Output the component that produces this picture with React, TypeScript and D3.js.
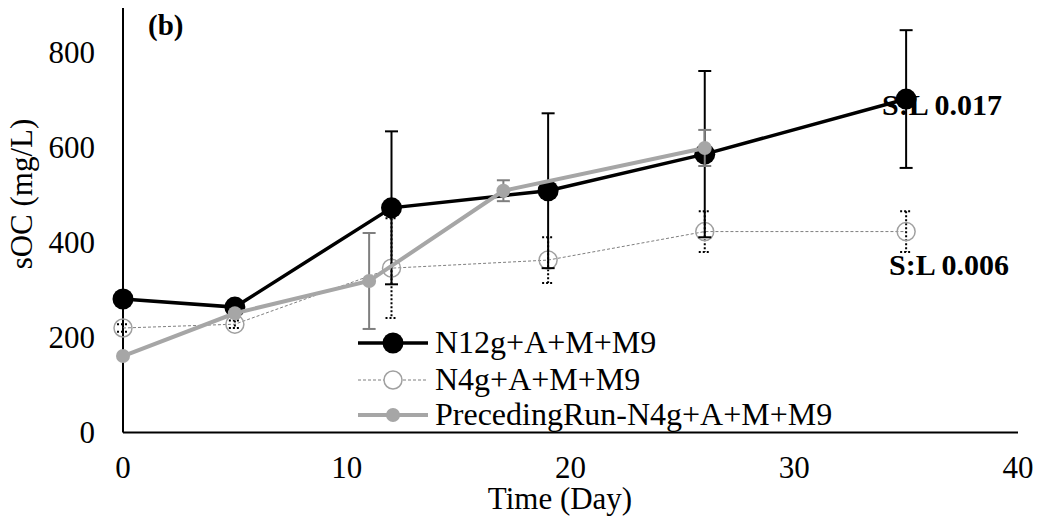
import React from "react";
import * as d3 from "d3";

const xTicks = [0, 10, 20, 30, 40];
const yTicks = [0, 200, 400, 600, 800];

const n12Days = [0, 5, 12, 19, 26, 35];
const n12Values = [281, 264, 473, 509, 586, 702];
const n12Err = [11, 9, 161, 163, 175, 145];

const n4Days = [0, 5, 12, 19, 26, 35];
const n4Values = [220, 228, 346, 363, 423, 423];
const n4Err = [8, 8, 105, 48, 43, 43];

const precDays = [0, 5, 11, 17, 26];
const precValues = [161, 251, 319, 509, 599];
const precErr = [0, 0, 101, 22, 38];

const legendLabels = ["N12g+A+M+M9", "N4g+A+M+M9", "PrecedingRun-N4g+A+M+M9"];

const FONT = "'Liberation Serif', 'Times New Roman', serif";

export default function App() {
  const x = d3.scaleLinear().domain([0, 40]).range([123, 1018]);
  const y = d3.scaleLinear().domain([0, 800]).range([432.5, 52.5]);
  const yTop = 8;

  const mk = (days: number[], vals: number[]) => days.map((d, i) => [d, vals[i]] as [number, number]);
  const line = d3.line<[number, number]>().x((d) => x(d[0])).y((d) => y(d[1]));

  const s1 = mk(n12Days, n12Values);
  const s2 = mk(n4Days, n4Values);
  const s3 = mk(precDays, precValues);

  const errBars = (days: number[], vals: number[], errs: number[], color: string, width: number, dash: string | undefined, cap: number, key: string) =>
    days.map((d, i) => {
      if (!errs[i]) return null;
      const cx = x(d);
      const y1 = y(vals[i] + errs[i]);
      const y2 = y(vals[i] - errs[i]);
      return (
        <g key={key + i} stroke={color} strokeWidth={width} strokeDasharray={dash} fill="none">
          <line x1={cx} x2={cx} y1={y1} y2={y2} />
          <line x1={cx - cap} x2={cx + cap} y1={y1} y2={y1} />
          <line x1={cx - cap} x2={cx + cap} y1={y2} y2={y2} />
        </g>
      );
    });

  const legendRows = [343, 380, 415];

  return (
    <svg width={1041} height={518} style={{ position: "absolute", left: 0, top: 0, background: "#fff" }} fontFamily={FONT}>
      <rect x={0} y={0} width={1041} height={518} fill="#fff" />
      {/* axes */}
      <line x1={x(0)} x2={x(0)} y1={yTop} y2={y(0)} stroke="#000" strokeWidth={2} />
      <line x1={x(0)} x2={x(40)} y1={y(0)} y2={y(0)} stroke="#000" strokeWidth={2} />
      {yTicks.map((t) => (
        <text key={"yt" + t} x={95} y={y(t)} dy="0.35em" textAnchor="end" fontSize={31} fill="#000">
          {t}
        </text>
      ))}
      {xTicks.map((t) => (
        <text key={"xt" + t} x={x(t)} y={478} textAnchor="middle" fontSize={31} fill="#000">
          {t}
        </text>
      ))}
      <text x={560} y={509} textAnchor="middle" fontSize={31} fill="#000">
        Time (Day)
      </text>
      <text transform="translate(32,194) rotate(-90)" textAnchor="middle" fontSize={31} fill="#000">
        sOC (mg/L)
      </text>
      <text x={148} y={35} fontSize={29} fontWeight="bold" fill="#000">
        (b)
      </text>

      {/* series 2: N4g dotted */}
      <path d={line(s2) || ""} fill="none" stroke="#7f7f7f" strokeWidth={1} strokeDasharray="3 2" />
      {errBars(n4Days, n4Values, n4Err, "#000", 2, "2 2", 6, "e2")}
      {s2.map((p, i) => (
        <circle key={"c2" + i} cx={x(p[0])} cy={y(p[1])} r={9} fill="none" stroke="#a0a0a0" strokeWidth={1.5} />
      ))}

      {/* series 1: N12g black */}
      {errBars(n12Days, n12Values, n12Err, "#000", 2, undefined, 6.5, "e1")}
      <path d={line(s1) || ""} fill="none" stroke="#000" strokeWidth={3.5} />
      {s1.map((p, i) => (
        <circle key={"c1" + i} cx={x(p[0])} cy={y(p[1])} r={10.5} fill="#000" />
      ))}

      {/* series 3: preceding run grey */}
      {errBars(precDays, precValues, precErr, "#7f7f7f", 2, undefined, 6.5, "e3")}
      <path d={line(s3) || ""} fill="none" stroke="#a6a6a6" strokeWidth={4} />
      {s3.map((p, i) => (
        <circle key={"c3" + i} cx={x(p[0])} cy={y(p[1])} r={7} fill="#a6a6a6" />
      ))}

      {/* annotations */}
      <text x={882} y={115} fontSize={30} fontWeight="bold" fill="#000">
        S:L 0.017
      </text>
      <text x={889} y={275} fontSize={30} fontWeight="bold" fill="#000">
        S:L 0.006
      </text>

      {/* legend */}
      <g>
        <line x1={358} x2={428} y1={legendRows[0]} y2={legendRows[0]} stroke="#000" strokeWidth={3.5} />
        <circle cx={393} cy={legendRows[0]} r={10.5} fill="#000" />
        <line x1={358} x2={428} y1={legendRows[1]} y2={legendRows[1]} stroke="#7f7f7f" strokeWidth={1} strokeDasharray="3 2" />
        <circle cx={393} cy={legendRows[1]} r={9} fill="#fff" stroke="#a0a0a0" strokeWidth={1.5} />
        <line x1={358} x2={428} y1={legendRows[2]} y2={legendRows[2]} stroke="#a6a6a6" strokeWidth={4} />
        <circle cx={393} cy={legendRows[2]} r={7} fill="#a6a6a6" />
        {legendLabels.map((l, i) => (
          <text key={"lg" + i} x={435} y={legendRows[i] + 10} fontSize={32} fill="#000">
            {l}
          </text>
        ))}
      </g>
    </svg>
  );
}
